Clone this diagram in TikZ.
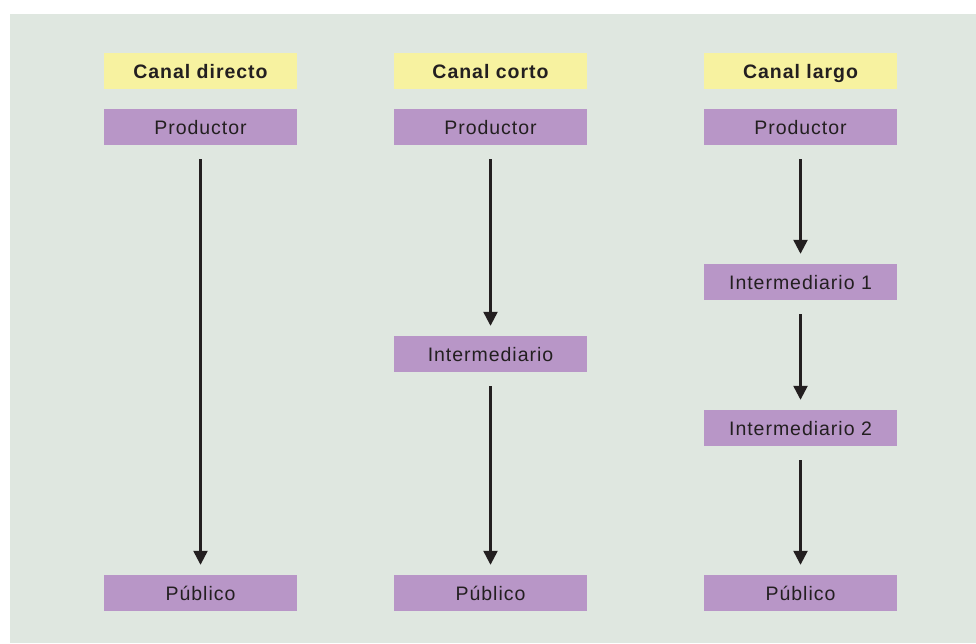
\documentclass[tikz,border=0pt]{standalone}
\usepackage{fontspec}
\setmainfont{Liberation Sans}[LetterSpace=5]
\usetikzlibrary{arrows.meta}
\definecolor{panel}{HTML}{DFE7E0}
\definecolor{headfill}{HTML}{F7F2A0}
\definecolor{stagefill}{HTML}{B896C7}
\definecolor{ink}{HTML}{231F20}
\begin{document}
\begin{tikzpicture}[x=1pt,y=-1pt,
  box/.style={rectangle, inner sep=0pt, minimum width=193pt, minimum height=36pt,
              text height=14pt, text depth=0pt,
              text=ink, font=\fontsize{19.5}{21}\selectfont},
  headbox/.style={box, fill=headfill, font=\fontsize{19.5}{21}\selectfont\bfseries},
  stagebox/.style={box, fill=stagefill},
  flow/.style={draw=ink, line width=2.4pt,
               -{Triangle[length=14pt,width=14pt]}, shorten <=14pt, shorten >=10pt}]
  \useasboundingbox (0,0) rectangle (976,643);
  \fill[panel] (10,14) rectangle (976,643);

  % Direct channel
  \node[headbox]  (h1)   at (200.5,71)  {Canal directo};
  \node[stagebox] (p1)   at (200.5,127) {Productor};
  \node[stagebox] (c1)   at (200.5,593) {Público};

  % Short channel
  \node[headbox]  (h2)   at (490.5,71)  {Canal corto};
  \node[stagebox] (p2)   at (490.5,127) {Productor};
  \node[stagebox] (i2)   at (490.5,354) {Intermediario};
  \node[stagebox] (c2)   at (490.5,593) {Público};

  % Long channel
  \node[headbox]  (h3)   at (800.5,71)  {Canal largo};
  \node[stagebox] (p3)   at (800.5,127) {Productor};
  \node[stagebox] (i3a)  at (800.5,282) {Intermediario 1};
  \node[stagebox] (i3b)  at (800.5,428) {Intermediario 2};
  \node[stagebox] (c3)   at (800.5,593) {Público};

  \draw[flow] (p1.south) -- (c1.north);
  \draw[flow] (p2.south) -- (i2.north);
  \draw[flow] (i2.south) -- (c2.north);
  \draw[flow] (p3.south) -- (i3a.north);
  \draw[flow] (i3a.south) -- (i3b.north);
  \draw[flow] (i3b.south) -- (c3.north);
\end{tikzpicture}
\end{document}
